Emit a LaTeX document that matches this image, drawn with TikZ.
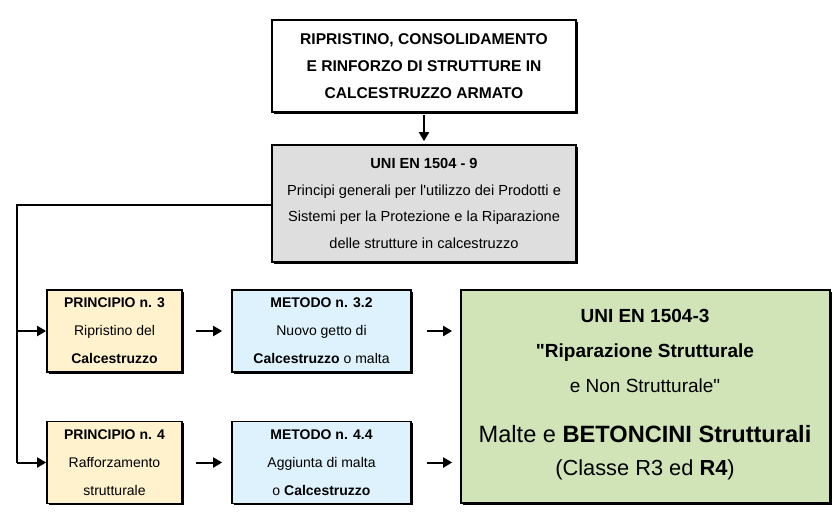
\documentclass[tikz,border=0pt]{standalone}
\usepackage{fontspec}
\setmainfont{Liberation Sans}[Ligatures=TeXOff]
\usetikzlibrary{arrows.meta,shadows}
\definecolor{cgray}{HTML}{DEDEDE}
\definecolor{cyel}{HTML}{FFF2CC}
\definecolor{ccyan}{HTML}{DDF2FD}
\definecolor{cgreen}{HTML}{D0E4B8}
\begin{document}
\begin{tikzpicture}[x=1pt,y=-1pt,
 box/.style={draw=black, line width=1.7pt, align=center, inner sep=0pt,
   drop shadow={shadow xshift=1.5pt, shadow yshift=-1.5pt, fill=black, opacity=1}},
 arr/.style={line width=2pt, -{Triangle[length=9pt,width=10pt]}},
 link/.style={line width=2pt},
 gtext/.style={align=center, inner sep=0pt},
 small/.style={font=\fontsize{14}{28}\selectfont}
]
\useasboundingbox (0,0) rectangle (834,515);

\node[box, fill=white, minimum width=304pt, minimum height=92pt,
  font=\bfseries\fontsize{15.6}{27}\selectfont] (top) at (424,66)
  {RIPRISTINO, CONSOLIDAMENTO\\E RINFORZO DI STRUTTURE IN\\CALCESTRUZZO ARMATO};

\node[box, fill=cgray, minimum width=304pt, minimum height=117pt,
  font=\fontsize{14.6}{26.7}\selectfont] (gray) at (424,203.5)
  {\textbf{UNI EN 1504 - 9}\\Principi generali per l'utilizzo dei Prodotti e\\Sistemi per la Protezione e la Riparazione\\delle strutture in calcestruzzo};

\node[box, small, fill=cyel, minimum width=135pt, minimum height=82pt] (p3) at (114.5,331)
  {\textbf{PRINCIPIO n. 3}\\Ripristino del\\\textbf{Calcestruzzo}};
\node[box, small, fill=cyel, minimum width=135pt, minimum height=82pt] (p4) at (114.5,462.5)
  {\textbf{PRINCIPIO n. 4}\\Rafforzamento\\strutturale};

\node[box, small, fill=ccyan, minimum width=179pt, minimum height=82pt] (m3) at (321.5,331)
  {\textbf{METODO n. 3.2}\\Nuovo getto di\\\textbf{Calcestruzzo} o malta};
\node[box, small, fill=ccyan, minimum width=179pt, minimum height=82pt] (m4) at (321.5,462.5)
  {\textbf{METODO n. 4.4}\\Aggiunta di malta\\o \textbf{Calcestruzzo}};

\node[box, fill=cgreen, minimum width=369pt, minimum height=213pt] (g) at (645.5,396.5) {};
\node[gtext, font=\bfseries\fontsize{19}{22}\selectfont] (g1) at (645,316) {UNI EN 1504-3};
\node[gtext, font=\fontsize{19}{22}\selectfont] (g2) at (645,353) {\textbf{"Riparazione Strutturale}};
\node[gtext, font=\fontsize{19}{22}\selectfont] (g3) at (645,386) {e Non Strutturale"};
\node[gtext, font=\fontsize{23.6}{27}\selectfont] (g4) at (645,434) {Malte e \textbf{BETONCINI Strutturali}};
\node[gtext, font=\fontsize{21.8}{25}\selectfont] (g5) at (645,470) {(Classe R3 ed \textbf{R4})};

\draw[arr, shorten <=2pt, shorten >=3pt] (top.south) -- (gray.north);

\coordinate (c1) at (17,205);
\coordinate (c2) at (17,462.5);
\draw[link] (gray.west |- c1) -- (c1) -- (c2);
\draw[arr] (c1 |- p3.west) -- (p3.west);
\draw[arr] (c2) -- (p4.west);

\draw[arr, shorten <=13pt, shorten >=9pt] (p3.east) -- (m3.west);
\draw[arr, shorten <=13pt, shorten >=9pt] (p4.east) -- (m4.west);
\draw[arr, shorten <=15pt, shorten >=8pt] (m3.east) -- (g.west |- m3.east);
\draw[arr, shorten <=15pt, shorten >=8pt] (m4.east) -- (g.west |- m4.east);
\end{tikzpicture}
\end{document}
